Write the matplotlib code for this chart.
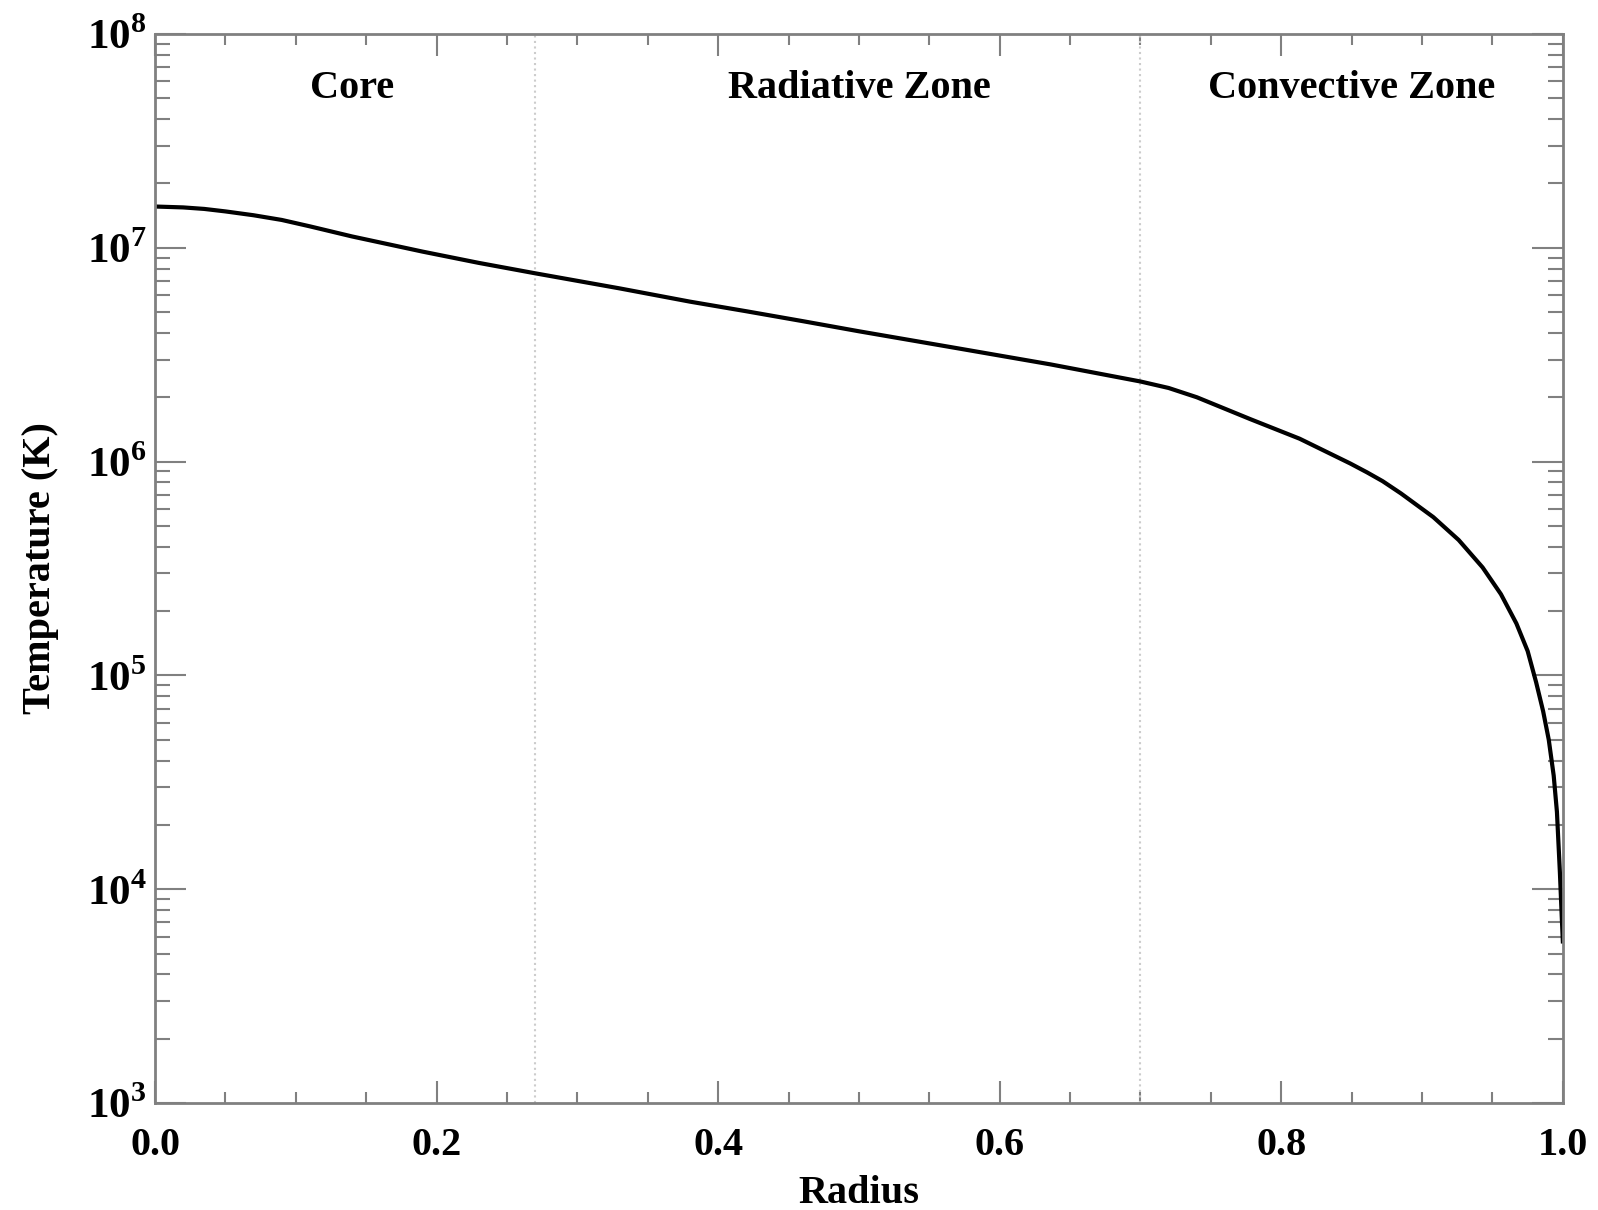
import math
import matplotlib
matplotlib.use('Agg')
import matplotlib.pyplot as plt
from matplotlib.ticker import LogLocator, FuncFormatter, MultipleLocator

plt.rcParams['font.family'] = ['Liberation Serif', 'DejaVu Serif']
plt.rcParams['font.weight'] = 'bold'
plt.rcParams['mathtext.fontset'] = 'custom'
plt.rcParams['mathtext.rm'] = 'Liberation Serif:bold'
plt.rcParams['mathtext.bf'] = 'Liberation Serif:bold'

# solar temperature profile
radius = [0.0, 0.02, 0.035, 0.05, 0.07, 0.09, 0.11, 0.14, 0.19, 0.23, 0.27,
          0.33, 0.38, 0.42, 0.46, 0.50, 0.57, 0.636, 0.70, 0.72, 0.74, 0.778,
          0.813, 0.849, 0.861, 0.872, 0.885, 0.908, 0.926, 0.943, 0.956,
          0.967, 0.975, 0.981, 0.986, 0.990, 0.9935, 0.9958, 0.9979,
          0.9992, 1.0]
temperature = [1.56e7, 1.545e7, 1.52e7, 1.48e7, 1.42e7, 1.35e7, 1.26e7,
               1.13e7, 9.6e6, 8.5e6, 7.6e6, 6.46e6, 5.6e6, 5.05e6, 4.54e6,
               4.07e6, 3.39e6, 2.85e6, 2.37e6, 2.21e6, 2.0e6, 1.58e6, 1.28e6,
               9.8e5, 8.9e5, 8.1e5, 7.1e5, 5.5e5, 4.3e5, 3.2e5, 2.4e5, 1.75e5,
               1.3e5, 9.3e4, 6.8e4, 5.0e4, 3.4e4, 2.3e4, 1.2e4, 7.5e3, 5.7e3]

boundaries = [0.27, 0.70]
zone_names = ['Core', 'Radiative Zone', 'Convective Zone']
zone_centers = [0.14, 0.50, 0.85]

fig = plt.figure(figsize=(15.98, 12.10), dpi=100)
ax = fig.add_axes([0.097, 0.0884, 0.881, 0.8835])

for b in boundaries:
    ax.axvline(b, color='#cccccc', lw=1.5, ls=':')

ax.plot(radius, temperature, color='black', lw=3)

ax.set_yscale('log')
ax.set_xlim(0, 1)
ax.set_ylim(1e3, 1e8)

ax.xaxis.set_major_locator(MultipleLocator(0.2))
ax.xaxis.set_minor_locator(MultipleLocator(0.05))
ax.xaxis.set_major_formatter(FuncFormatter(lambda v, p: '%.1f' % v))
ax.yaxis.set_major_locator(LogLocator(base=10))
ax.yaxis.set_minor_locator(LogLocator(base=10, subs=range(2, 10)))
ax.yaxis.set_major_formatter(FuncFormatter(lambda v, p: r'$10^{%d}$' % round(math.log10(v))))

for s in ax.spines.values():
    s.set_color('#808080')
    s.set_linewidth(2)

ax.tick_params(axis='both', which='both', direction='in', top=True, right=True,
               colors='#808080', labelcolor='black', width=1.5)
ax.tick_params(axis='x', which='major', length=16, labelsize=29, pad=17)
ax.tick_params(axis='x', which='minor', length=8)
ax.tick_params(axis='y', which='major', length=22, labelsize=31, pad=6)
ax.tick_params(axis='y', which='minor', length=11)

for name, c in zip(zone_names, zone_centers):
    ax.text(c, 0.949, name, transform=ax.get_xaxis_transform(), ha='center',
            va='center', fontsize=29, fontweight='bold')

ax.set_xlabel('Radius', fontsize=29, fontweight='bold', labelpad=8)
ax.set_ylabel('Temperature (K)', fontsize=29, fontweight='bold', labelpad=20)

fig.savefig('out.png', dpi=100)
